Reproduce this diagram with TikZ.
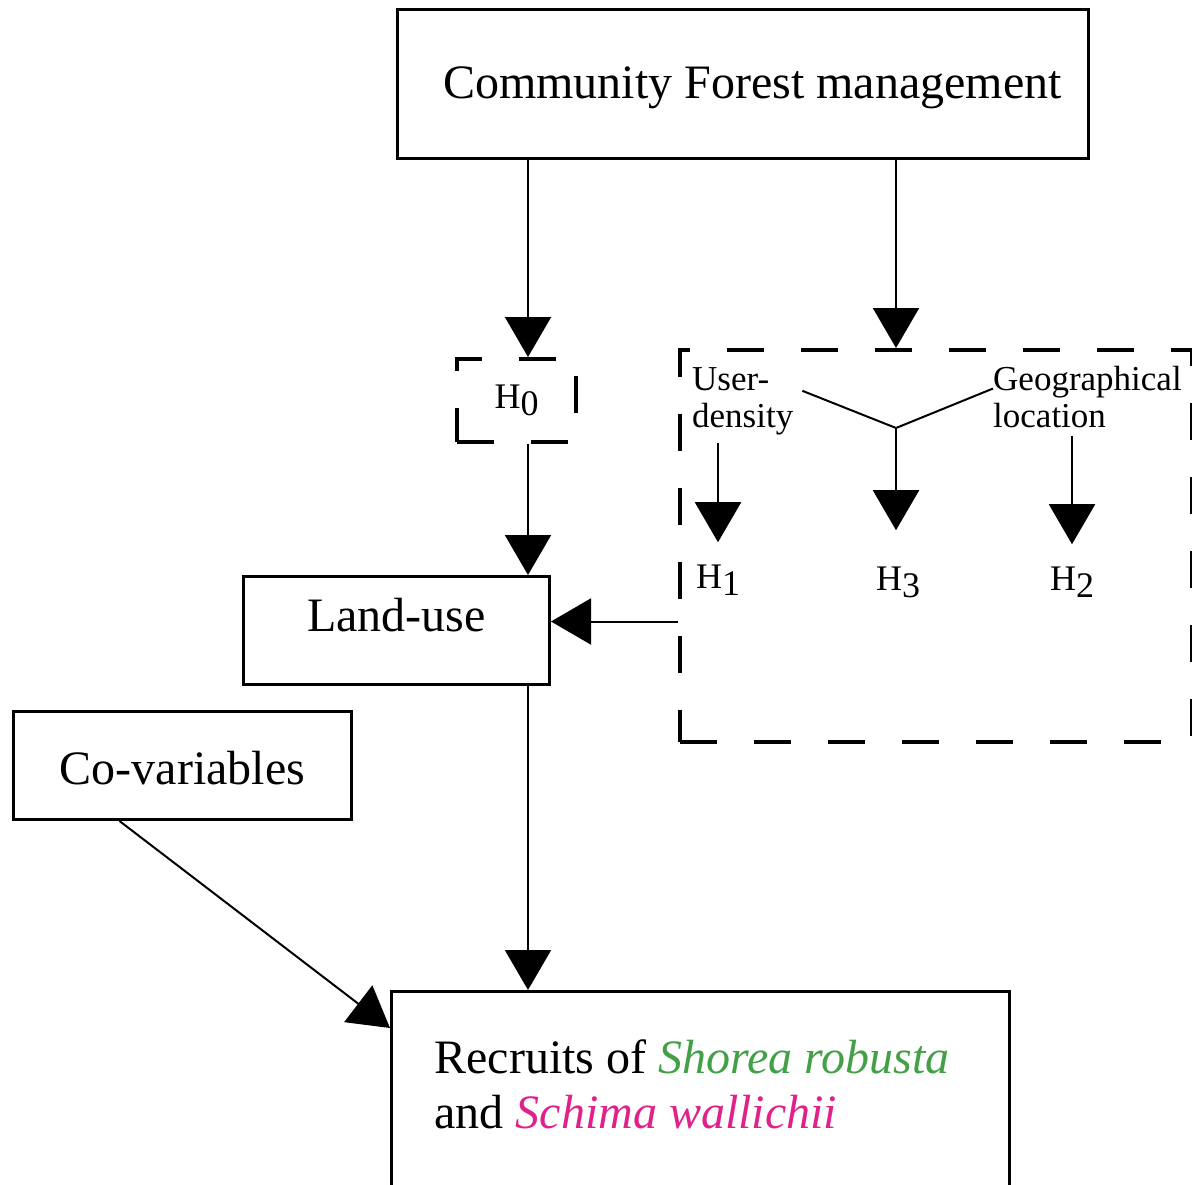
\documentclass[tikz,border=0pt]{standalone}
\usepackage{fontspec}
\setmainfont{Liberation Serif}
\usetikzlibrary{arrows.meta}

\begin{document}
\begin{tikzpicture}[x=1pt, y=-1pt,
    box/.style={draw, line width=3pt, inner sep=0pt, font=\fontsize{48}{55}\selectfont},
    dashbox/.style={draw, line width=4pt, dash pattern=on 37pt off 37pt, inner sep=0pt},
    flow/.style={line width=2pt, -{Triangle[length=40pt, width=46pt]}},
    factor/.style={inner sep=0pt, align=flush left, anchor=base west, font=\fontsize{35}{37}\selectfont},
    hlabel/.style={inner sep=0pt, anchor=base, font=\fontsize{36}{40}\selectfont}]
    \definecolor{shoreaGreen}{HTML}{43A047}
    \definecolor{schimaPink}{HTML}{E0218A}

    \def\hsub#1{H\raisebox{-7pt}{#1}}

    % Page frame, the bottom box runs off the page
    \path[use as bounding box, clip] (0,0) rectangle (1192,1184);

    % Boxes
    \node[box, minimum width=691pt, text height=89pt, text depth=60pt, anchor=north] (cfm) at (742.5,8) {\hspace*{20pt}Community Forest management};
    \node[box, minimum width=306pt, text height=55pt, text depth=53pt, anchor=north west] (landuse) at (242,575) {Land-use};
    \node[box, minimum width=338pt, text height=73pt, text depth=35pt, anchor=north west] (covar) at (12,710) {Co-variables};
    \node[box, text width=532pt, inner xsep=43pt, align=flush left, text height=82pt, text depth=220pt, anchor=north west] (recruits) at (390,990)
        {Recruits of \textcolor{shoreaGreen}{\textit{Shorea robusta}}\\and \textcolor{schimaPink}{\textit{Schima wallichii}}};

    % Hypothesis boxes
    \node[dashbox, minimum width=119pt, minimum height=83pt, anchor=north west, font=\fontsize{36}{40}\selectfont] (hzero) at (455,357) {\hsub{0}};
    \node[dashbox, minimum width=512pt, minimum height=392pt, anchor=north west] (hyp) at (678,348) {};

    % Factors inside the dashed box
    \node[factor, text width=110pt] (userden) at (692,390) {User-\\density};
    \node[factor, text width=200pt] (geoloc) at (993,390) {Geographical\\location};
    \coordinate (fork) at (896,428);
    \node[hlabel] (hone) at (718,588) {\hsub{1}};
    \node[hlabel] (hthree) at (898,590) {\hsub{3}};
    \node[hlabel] (htwo) at (1072,590) {\hsub{2}};

    % Arrows
    \coordinate (spine) at (528,0);
    \draw[flow] (cfm.south -| spine) -- (hzero.north -| spine);
    \draw[flow] (cfm.south -| fork) -- (hyp.north -| fork);
    \draw[flow] (hzero.south -| spine) -- (landuse.north -| spine);
    \draw[flow] (landuse.south -| spine) -- (recruits.north -| spine);
    \draw[flow] ([xshift=-63pt]covar.south) -- ([yshift=-38pt]recruits.north west);
    \coordinate (luin) at ([yshift=9pt]landuse.east);
    \draw[flow] (luin -| hyp.west) -- (luin);

    \draw[line width=2pt] ([yshift=10pt]userden.east) -- (fork) -- ([yshift=8pt]geoloc.west);
    \draw[flow, shorten >=36pt] (fork) -- (fork |- hthree.north);
    \draw[flow, shorten <=8pt, shorten >=22pt] (userden.south -| hone) -- (hone.north);
    \draw[flow, shorten <=8pt, shorten >=22pt] (geoloc.south -| htwo) -- (htwo.north);
\end{tikzpicture}
\end{document}
